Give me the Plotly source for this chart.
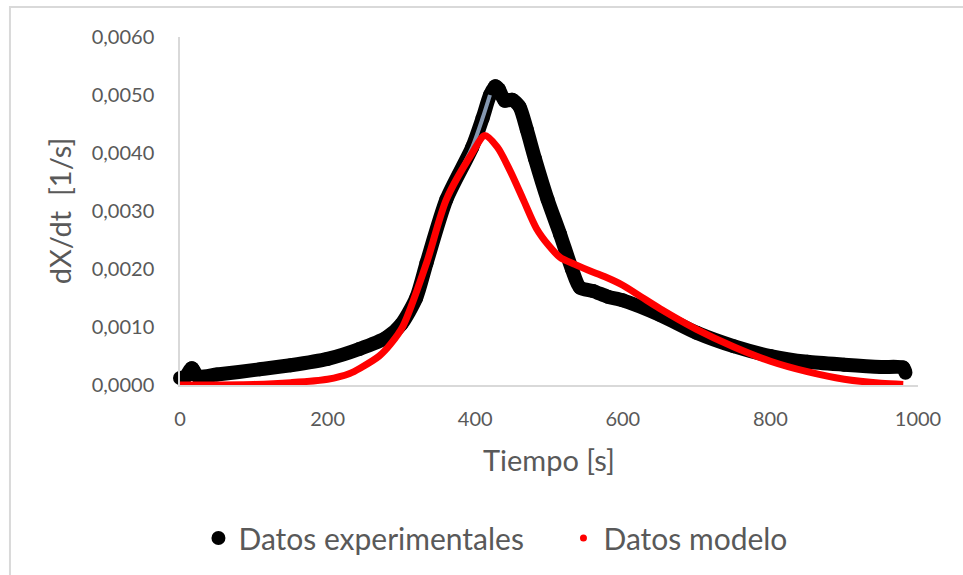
import plotly.graph_objects as go

# Experimental rate curve dX/dt versus time
t_exp = [0, 8, 16, 24, 50, 108, 150, 200, 243, 280, 300, 320, 334, 361, 396,
         410, 420, 427, 432, 440, 450, 460, 470, 481, 498, 515, 531, 542,
         560, 580, 600, 650, 700, 750, 800, 850, 900, 950, 980, 983]
y_exp = [0.00012, 0.00015, 0.00029, 0.00015, 0.00018, 0.00027, 0.00034, 0.00045,
         0.00062, 0.00082, 0.00105, 0.0015, 0.0021, 0.0032, 0.0041,
         0.0046, 0.0050, 0.00515, 0.0051, 0.0049, 0.00492, 0.0048, 0.0044, 0.0039,
         0.0032, 0.0026, 0.0020, 0.00168,
         0.00162, 0.00152, 0.00146, 0.00121, 0.0009, 0.00067, 0.0005, 0.0004,
         0.00035, 0.00031, 0.0003, 0.00021]

# Model prediction
t_mod = [0, 100, 150, 200, 230, 244, 270, 285, 302, 334, 361, 396, 413,
         430, 447, 465, 483, 500, 515, 535, 555, 575, 600, 625, 650, 700, 750, 800,
         850, 900, 950, 980]
y_mod = [0.0, 0.00001, 0.00004, 0.0001, 0.0002, 0.00029, 0.0005, 0.0007,
         0.00101, 0.0021, 0.0032, 0.0040, 0.0043,
         0.0041, 0.0037, 0.0032, 0.0027, 0.0024, 0.0022, 0.00208, 0.00197,
         0.00187, 0.00172, 0.00152, 0.00132, 0.00096, 0.00066, 0.00041,
         0.00023, 0.0001, 0.00003, 0.00001]

x_ticks = [0, 200, 400, 600, 800, 1000]
y_ticks = [0.0, 0.001, 0.002, 0.003, 0.004, 0.005, 0.006]

FONT = "Lato"
GREY_TXT = "#595959"
AXIS_GREY = "#d9d9d9"

fig = go.Figure()

# Experimental data: thick black band
fig.add_trace(go.Scatter(
    x=t_exp, y=y_exp, mode="lines+markers",
    line=dict(color="black", width=14, shape="spline", smoothing=0.7),
    marker=dict(color="black", size=14),
    cliponaxis=False, showlegend=False, hoverinfo="x+y",
))

# Slate inner fill visible on the steep rising edge
rise = [i for i, t in enumerate(t_exp) if 330 <= t <= 425]
fig.add_trace(go.Scatter(
    x=[t_exp[i] for i in rise], y=[y_exp[i] for i in rise], mode="lines",
    line=dict(color="#8497b0", width=4, shape="spline", smoothing=0.7),
    showlegend=False, hoverinfo="skip",
))

# Model curve in red
fig.add_trace(go.Scatter(
    x=t_mod, y=y_mod, mode="lines",
    line=dict(color="#ff0000", width=7, shape="spline", smoothing=0.8),
    cliponaxis=False, showlegend=False, hoverinfo="x+y",
))

# Legend entries
fig.add_trace(go.Scatter(
    x=[None], y=[None], mode="markers", name="Datos experimentales",
    marker=dict(color="black", size=14),
))
fig.add_trace(go.Scatter(
    x=[None], y=[None], mode="markers", name="Datos modelo",
    marker=dict(color="#ff0000", size=7),
))

fig.update_layout(
    width=963, height=575,
    margin=dict(l=180, r=45, t=37, b=189),
    paper_bgcolor="white", plot_bgcolor="white",
    separators=",.",
    font=dict(family=FONT, color=GREY_TXT, size=20),
    legend=dict(
        orientation="h", x=0.025, xanchor="left", y=-0.4355, yanchor="middle",
        font=dict(family=FONT, size=30, color=GREY_TXT),
        itemsizing="trace", itemwidth=30,
        entrywidth=320, entrywidthmode="pixels",
    ),
    shapes=[dict(
        type="rect", xref="paper", yref="paper",
        x0=-0.2304, x1=1.2, y0=-0.7, y1=1.086,
        line=dict(color=AXIS_GREY, width=2), fillcolor="rgba(0,0,0,0)",
        layer="below",
    )],
)

fig.update_xaxes(
    range=[0, 1000], tickvals=x_ticks, ticktext=[str(v) for v in x_ticks],
    showgrid=False, zeroline=False,
    showline=True, linecolor=AXIS_GREY, linewidth=1.5,
    ticks="", ticklabelstandoff=15,
    tickfont=dict(family=FONT, size=20, color=GREY_TXT),
    title=dict(text="Tiempo [s]", font=dict(family=FONT, size=29, color=GREY_TXT), standoff=22),
)
fig.update_yaxes(
    range=[0, 0.006], tickvals=y_ticks, tickformat=".4f",
    showgrid=False, zeroline=False,
    showline=True, linecolor=AXIS_GREY, linewidth=1.5,
    ticks="", ticklabelstandoff=20,
    tickfont=dict(family=FONT, size=20, color=GREY_TXT),
    title=dict(text="dX/dt\u00a0 [1/s]", font=dict(family=FONT, size=29, color=GREY_TXT), standoff=12),
)

fig.write_html("out.html")
